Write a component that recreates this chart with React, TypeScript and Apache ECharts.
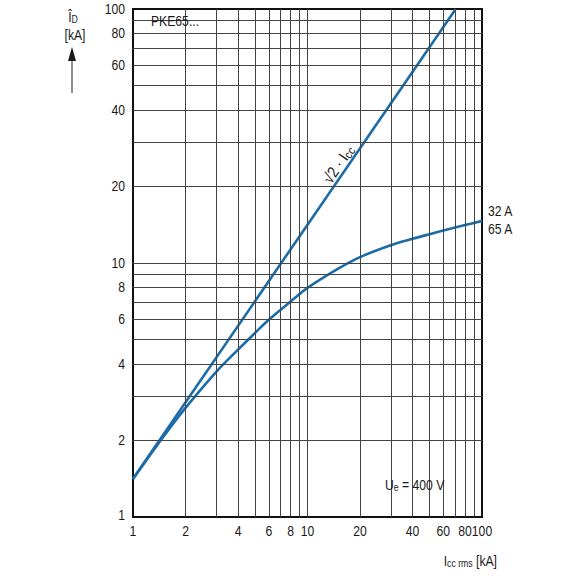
import React, { useEffect, useRef } from "react";
import * as echarts from "echarts";

const xTickLabels = [1, 2, 4, 6, 8, 10, 20, 40, 60, 80, 100];
const yTickLabels = [1, 2, 4, 6, 8, 10, 20, 40, 60, 80, 100];
const gridValues = [2, 3, 4, 5, 6, 7, 8, 9, 10, 20, 30, 40, 50, 60, 70, 80, 90];

const lineX = [1, 70.71];
const lineY = [1.414, 100];

const curveX = [1, 1.5, 2, 3, 4, 5, 6, 8, 10, 15, 20, 30, 40, 50, 60, 80, 100];
const curveY = [1.41, 2.08, 2.69, 3.73, 4.56, 5.3, 5.98, 7.05, 7.98, 9.5, 10.55, 11.75, 12.45, 12.98, 13.42, 14.1, 14.65];

const FONT = "'Liberation Sans', Arial, sans-serif";
const BLUE = "#1b6ca8";
const TXT = "#1a1a1a";
const SX = 0.87;

export default function App() {
  const ref = useRef<HTMLDivElement>(null);
  useEffect(() => {
    if (!ref.current) return;
    const chart = echarts.init(ref.current, undefined, { renderer: "svg" });
    const gridLeft = 133, gridTop = 9, gridW = 349, gridH = 508;
    chart.setOption({
      animation: false,
      grid: {
        left: gridLeft, top: gridTop, width: gridW, height: gridH,
        show: true, borderColor: "#111", borderWidth: 2, backgroundColor: "#fff",
      },
      xAxis: {
        type: "log", logBase: 10, min: 1, max: 100,
        axisLine: { show: false }, axisTick: { show: false },
        axisLabel: { show: false }, splitLine: { show: false },
      },
      yAxis: {
        type: "log", logBase: 10, min: 1, max: 100,
        axisLine: { show: false }, axisTick: { show: false },
        axisLabel: { show: false }, splitLine: { show: false },
      },
      series: [
        {
          type: "line", data: [], z: 1, silent: true,
          markLine: {
            silent: true, symbol: ["none", "none"], label: { show: false },
            lineStyle: { type: "solid", color: "#444", width: 1 },
            data: [
              ...gridValues.map((v) => ({ xAxis: v })),
              ...gridValues.map((v) => ({ yAxis: v })),
            ],
          },
        },
        {
          type: "line", z: 4, showSymbol: false, symbol: "none",
          lineStyle: { color: BLUE, width: 2.6 },
          data: lineX.map((x, i) => [x, lineY[i]]),
        },
        {
          type: "line", z: 4, showSymbol: false, symbol: "none", smooth: 0.35,
          lineStyle: { color: BLUE, width: 2.6 },
          data: curveX.map((x, i) => [x, curveY[i]]),
        },
      ],
    });

    const graphics: any[] = [];
    const bottom = gridTop + gridH;
    const txt = (x: number, y: number, text: string, align: string, extra: any = {}) => ({
      type: "text", x, y, z: 5, scaleX: SX, ...extra,
      style: { text, font: `14px ${FONT}`, fill: TXT, align, verticalAlign: "middle" },
    });
    const richTxt = (x: number, y: number, text: string, align: string, extra: any = {}, big = 14) => ({
      type: "text", x, y, z: 5, scaleX: SX, ...extra,
      style: {
        text, align, verticalAlign: "middle",
        rich: {
          a: { font: `${big}px ${FONT}`, fill: TXT, color: TXT },
          s: { font: `${big - 4}px ${FONT}`, fill: TXT, color: TXT, padding: [6, 0, 0, 0] },
        },
      },
    });
    xTickLabels.forEach((v) => {
      const p = chart.convertToPixel({ gridIndex: 0 }, [v, 1]) as number[];
      graphics.push(txt(p[0], bottom + 14, String(v), "center"));
    });
    yTickLabels.forEach((v) => {
      const p = chart.convertToPixel({ gridIndex: 0 }, [1, v]) as number[];
      graphics.push(txt(gridLeft - 8, p[1] + (v === 1 ? -2 : 0), String(v), "right"));
    });
    // white boxes
    graphics.push({ type: "rect", z: 3, shape: { x: 134, y: 10, width: 66, height: 21 }, style: { fill: "#fff" } });
    graphics.push({ type: "rect", z: 3, shape: { x: 382, y: 473, width: 70, height: 29 }, style: { fill: "#fff" } });
    graphics.push(txt(151, 21, "PKE65...", "left"));
    graphics.push(richTxt(385, 485, "{a|U}{s|e}{a| = 400 V}", "left"));
    graphics.push(txt(488, 211, "32 A", "left"));
    graphics.push(txt(488, 229, "65 A", "left"));
    graphics.push(richTxt(338, 164, "{a|√2 · I}{s|cc}", "center", { rotation: (55.5 * Math.PI) / 180 }, 16));
    // y-axis title
    graphics.push(richTxt(73, 17, "{a|Î}{s|D}", "center"));
    graphics.push(txt(75, 35, "[kA]", "center"));
    graphics.push({ type: "line", z: 5, shape: { x1: 72, y1: 93, x2: 72, y2: 58 }, style: { stroke: TXT, lineWidth: 1 } });
    graphics.push({ type: "polygon", z: 5, shape: { points: [[68, 61], [76, 61], [72, 47]] }, style: { fill: TXT } });
    // x-axis title
    graphics.push(richTxt(497, 561, "{a|I}{s|cc rms}{a| [kA]}", "right"));
    chart.setOption({ graphic: graphics });
    return () => chart.dispose();
  }, []);
  return <div ref={ref} style={{ position: "fixed", left: 0, top: 0, width: 580, height: 580, background: "#fff" }} />;
}
